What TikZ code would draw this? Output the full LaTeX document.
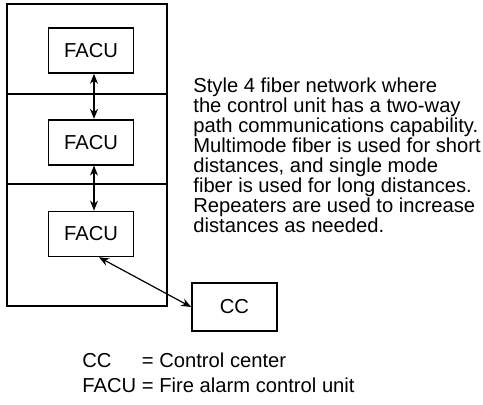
\documentclass[tikz,border=0pt]{standalone}
\usepackage{fontspec}
\setmainfont{Liberation Sans}
\usetikzlibrary{arrows.meta, positioning}

\begin{document}
\begin{tikzpicture}[
    x=0.5pt, y=-0.5pt,
    node distance=22.5pt,
    every node/.style={font=\fontsize{10.1}{10}\selectfont},
    unit/.style={rectangle, draw, line width=0.85pt, minimum width=42.5pt, minimum height=22.5pt, inner sep=0pt},
    wall/.style={line width=0.85pt},
    link/.style={{Stealth[length=5pt,width=4pt]}-{Stealth[length=5pt,width=4pt]}, line width=0.6pt}
]
    \useasboundingbox (0,0) rectangle (483,404);

    % building with three floors
    \draw [wall] (7,4) rectangle (167,306);
    \draw [wall] (7,94) -- (167,94);
    \draw [wall] (7,184) -- (167,184);

    \node (facu1) [unit] at (91,50.5) {FACU};
    \node (facu2) [unit, below=of facu1] {FACU};
    \node (facu3) [unit, below=of facu2] {FACU};
    \node (cc) [unit, minimum height=24pt] at (234.5,307) {CC};

    \node (note) [anchor=north west, inner sep=0pt, align=left] at (193,77)
        {Style 4 fiber network where\\the control unit has a two-way\\path communications capability.\\Multimode fiber is used for short\\distances, and single mode\\fiber is used for long distances.\\Repeaters are used to increase\\distances as needed.};

    \node (legend) [anchor=north west, inner sep=0pt, font=\fontsize{10.1}{12.5}\selectfont] at (82,350)
        {\begin{tabular}{@{}l@{ }l}
            CC & = Control center\\
            FACU & = Fire alarm control unit
        \end{tabular}};

    \draw [link] ([xshift=1.5pt]facu1.south) -- ([xshift=1.5pt]facu2.north);
    \draw [link] ([xshift=1.5pt]facu2.south) -- ([xshift=1.5pt]facu3.north);
    \draw [link] ([xshift=4pt]facu3.south) -- (cc.west);
\end{tikzpicture}
\end{document}
